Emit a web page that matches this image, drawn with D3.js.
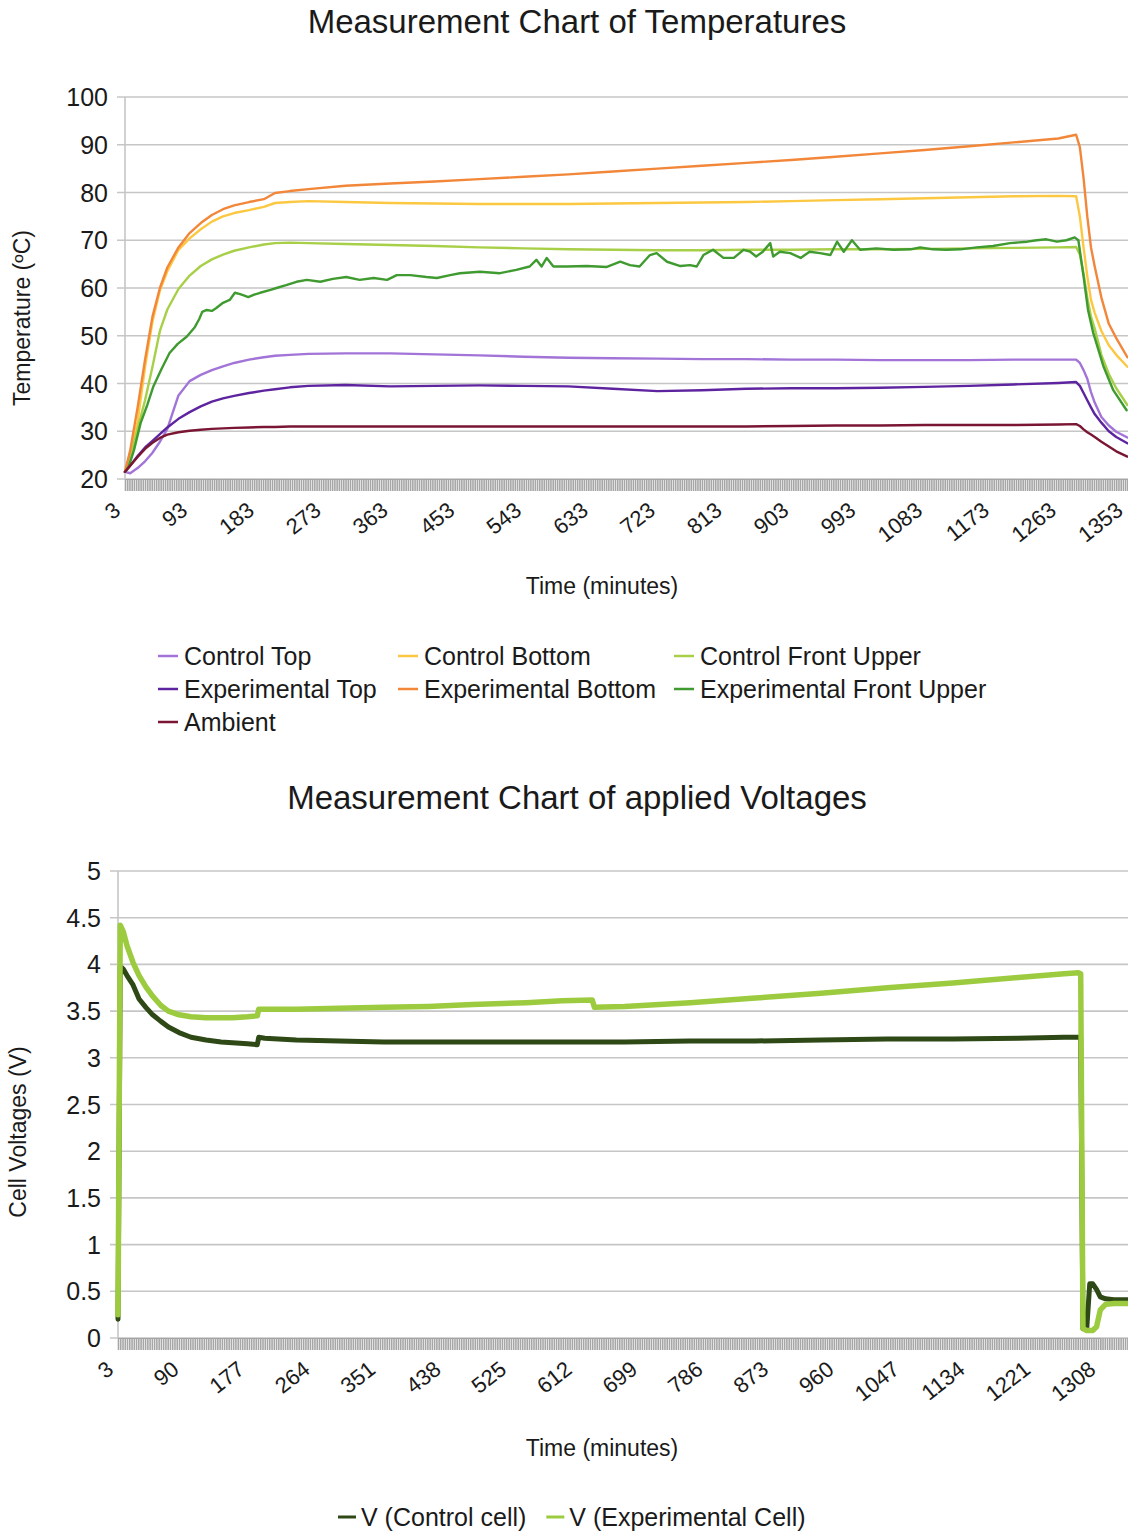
<!DOCTYPE html>
<html>
<head>
<meta charset="utf-8">
<script src="https://cdnjs.cloudflare.com/ajax/libs/d3/7.8.5/d3.min.js"></script>
<style>
  body { margin: 0; background: #fff; }
  text { font-family: "Liberation Sans", Arial, sans-serif; fill: #1a1a1a; }
</style>
</head>
<body>
<script>
var W = 1128, H = 1533;

// ---- temperature chart data (minutes, degC) ----
var tempTimes = [3,10,20,30,40,50,60,75,90,105,120,135,150,170,190,205,225,250,300,360,
  420,480,540,600,660,720,780,840,900,960,1020,1080,1140,1200,1260,
  1284,1289,1294,1299,1304,1309,1318,1328,1338,1353];

var controlTop = [21.5,21.2,22.3,23.7,25.5,27.8,30.5,37.5,40.5,41.8,42.8,43.6,44.3,45,45.5,45.8,46,46.2,46.3,46.3,
  46.1,45.9,45.6,45.4,45.3,45.2,45.1,45.1,45,45,44.9,44.9,44.9,45,45,
  45,44.3,42.8,41,38.2,36,33,31.2,29.9,28.7];
var controlBottom = [21.5,25.5,32,43.5,53,59.5,63.5,68,70.4,72.3,73.9,75,75.7,76.3,77,77.8,78,78.2,78,77.8,
  77.7,77.6,77.6,77.6,77.7,77.8,77.9,78,78.2,78.4,78.6,78.8,79,79.2,79.3,
  79.2,75,68.5,62.5,57.5,54.8,51,48,46,43.5];
var controlFront = [21.5,24.5,30.5,36.5,43.5,51,55.5,59.8,62.6,64.6,66,67,67.8,68.5,69.1,69.4,69.5,69.4,69.2,69,
  68.8,68.5,68.3,68.1,68,67.9,67.9,68,68,68.1,68.1,68.2,68.3,68.4,68.5,
  68.6,67,63,58,54,51.5,46,42,39,35.5];
var expTop = [21.5,22.8,24.8,26.6,28,29.4,30.8,32.6,34,35.2,36.2,36.9,37.4,38,38.5,38.8,39.2,39.5,39.7,39.4,
  39.5,39.6,39.5,39.4,38.9,38.4,38.6,38.9,39,39,39.1,39.3,39.5,39.8,40.1,
  40.3,39.5,38,36.5,35,33.6,31.8,30,28.8,27.5];
var expBottom = [21.5,26,35,45,54,60,64.3,68.5,71.5,73.6,75.3,76.5,77.3,78,78.6,79.9,80.3,80.7,81.4,81.9,
  82.3,82.8,83.3,83.8,84.4,85,85.6,86.2,86.8,87.5,88.2,88.9,89.7,90.5,91.3,
  92.1,89.5,83,75,68.5,64.5,58,52.5,49.5,45.5];
var ambient = [21.5,22.8,24.6,26.3,27.6,28.6,29.3,29.8,30.1,30.3,30.5,30.6,30.7,30.8,30.9,30.9,31,31,31,31,
  31,31,31,31,31,31,31,31,31.1,31.2,31.2,31.3,31.3,31.3,31.4,
  31.5,31.1,30.4,29.8,29.3,28.8,27.8,26.8,25.8,24.7];

// experimental front upper is noisy, read on its own time grid
var efuTimes = [3,8,15,24,33,41,52,63,74,86,97,103,107,113,120,126,135,144,151,158,
  162,169,177,185,199,207,220,234,248,266,283,301,319,338,356,369,387,409,423,441,
  454,481,508,530,548,557,564,571,580,598,625,652,670,683,696,710,719,733,751,764,
  773,782,795,809,823,836,845,853,862,872,876,885,899,913,925,939,953,962,971,982,
  993,1015,1038,1061,1074,1091,1109,1128,1150,1172,1195,1218,1231,1244,1258,1271,1282,1287,1294,1300,
  1307,1321,1334,1352];
var efuTemps = [21.5,22.6,26,31.7,35.5,39.3,43,46.4,48.3,49.8,51.8,53.5,55,55.4,55.2,55.8,56.9,57.5,59,58.7,
  58.5,58.1,58.6,59,59.6,60,60.6,61.3,61.7,61.3,61.9,62.3,61.7,62.1,61.7,62.7,62.7,62.3,62.1,62.7,
  63.1,63.4,63.1,63.8,64.5,65.9,64.5,66.3,64.5,64.5,64.6,64.4,65.5,64.8,64.5,66.9,67.3,65.5,64.6,64.8,
  64.5,66.9,68,66.3,66.3,68,67.6,66.6,67.6,69.4,66.6,67.6,67.3,66.3,67.6,67.3,66.9,69.7,67.6,70,
  68,68.3,68,68.1,68.5,68.1,68,68.1,68.5,68.8,69.4,69.7,70,70.2,69.7,70,70.6,70,62.4,55.4,
  50.6,43.5,38.6,34.4];

var tempYTicks = [20,30,40,50,60,70,80,90,100];
var tempXLabels = [3,93,183,273,363,453,543,633,723,813,903,993,1083,1173,1263,1353];

// ---- voltage chart data (minutes, volts) ----
var voltTimes = [3,6,10,15,23,31,40,49,60,70,84,100,120,140,155,175,188,190,198,240,
  297,356,415,474,545,593,633,636,676,763,850,937,1025,1112,1199,1260,1279,1282,1285,1290,
  1294,1298,1303,1308,1315,1326,1345];
var vControl = [0.2,3.98,3.95,3.88,3.78,3.63,3.54,3.46,3.39,3.33,3.27,3.22,3.19,3.17,3.16,3.15,3.14,3.22,3.21,3.19,
  3.18,3.17,3.17,3.17,3.17,3.17,3.17,3.17,3.17,3.18,3.18,3.19,3.2,3.2,3.21,3.22,3.22,3.22,0.1,0.1,
  0.58,0.58,0.52,0.44,0.42,0.41,0.41];
var vExp = [0.25,4.42,4.35,4.2,4.02,3.88,3.76,3.66,3.56,3.5,3.46,3.44,3.43,3.43,3.43,3.44,3.45,3.52,3.52,3.52,
  3.53,3.54,3.55,3.57,3.59,3.61,3.62,3.54,3.55,3.59,3.64,3.69,3.75,3.8,3.86,3.9,3.91,3.9,0.1,0.08,
  0.08,0.08,0.12,0.3,0.36,0.37,0.37];

var voltYTicks = [0,0.5,1,1.5,2,2.5,3,3.5,4,4.5,5];
var voltYLabels = ["0","0.5","1","1.5","2","2.5","3","3.5","4","4.5","5"];
var voltXLabels = [3,90,177,264,351,438,525,612,699,786,873,960,1047,1134,1221,1308];

var tempSeries = [
  {name: "Control Top", color: "#a274d8", t: tempTimes, v: controlTop},
  {name: "Control Bottom", color: "#fcc842", t: tempTimes, v: controlBottom},
  {name: "Control Front Upper", color: "#a8cf48", t: tempTimes, v: controlFront},
  {name: "Experimental Top", color: "#5e24a0", t: tempTimes, v: expTop},
  {name: "Experimental Bottom", color: "#f2873a", t: tempTimes, v: expBottom},
  {name: "Experimental Front Upper", color: "#3f9a30", t: efuTimes, v: efuTemps},
  {name: "Ambient", color: "#7a1634", t: tempTimes, v: ambient}
];
var voltSeries = [
  {name: "V (Control cell)", color: "#2e4816", t: voltTimes, v: vControl, w: 5},
  {name: "V (Experimental Cell)", color: "#9dcb40", t: voltTimes, v: vExp, w: 5.5}
];

var svg = d3.select("body").append("svg")
  .attr("width", W).attr("height", H);

function drawChart(o) {
  var g = svg.append("g");
  var x = d3.scaleLinear().domain(o.xDomain).range(o.xRange);
  var y = d3.scaleLinear().domain(o.yDomain).range([o.bottom, o.top]);

  g.append("text")
    .attr("x", 577).attr("y", o.titleY)
    .attr("text-anchor", "middle")
    .style("font-size", "33px")
    .text(o.title);

  g.selectAll(".grid").data(o.yTicks).enter().append("line")
    .attr("x1", o.left - 8).attr("x2", W)
    .attr("y1", function(d) { return y(d); })
    .attr("y2", function(d) { return y(d); })
    .attr("stroke", "#c6c6c6").attr("stroke-width", 1.6);

  g.append("line")
    .attr("x1", o.left).attr("x2", o.left)
    .attr("y1", o.top).attr("y2", o.bottom)
    .attr("stroke", "#c6c6c6").attr("stroke-width", 1.6);

  g.selectAll(".ylab").data(o.yTicks).enter().append("text")
    .attr("x", o.left - 17)
    .attr("y", function(d) { return y(d); })
    .attr("dy", "0.36em")
    .attr("text-anchor", "end")
    .style("font-size", "25px")
    .text(function(d, i) { return o.yLabels ? o.yLabels[i] : d; });

  g.append("text")
    .attr("transform", "translate(" + o.yTitleX + "," + o.yTitleY + ") rotate(-90)")
    .attr("text-anchor", "middle")
    .style("font-size", "23px")
    .text(o.yTitle);

  // one tick per 3-minute category makes the grey band under the plot
  var cats = d3.range(3, x.invert(W) + 3, 3);
  var band = g.append("g")
    .attr("transform", "translate(0," + o.bottom + ")")
    .call(d3.axisBottom(x).tickValues(cats).tickSize(12).tickFormat(""));
  band.select(".domain").attr("stroke", "#a0a0a0");
  band.selectAll(".tick line").attr("stroke", "#a6a6a6").attr("stroke-width", 1.6);

  g.selectAll(".xlab").data(o.xLabels).enter().append("text")
    .attr("transform", function(d) {
      return "translate(" + (x(d) - 3) + "," + (o.bottom + 34) + ") rotate(-38)";
    })
    .attr("text-anchor", "end")
    .style("font-size", "22px")
    .text(function(d) { return d; });

  g.append("text")
    .attr("x", 602).attr("y", o.xTitleY)
    .attr("text-anchor", "middle")
    .style("font-size", "23px")
    .text("Time (minutes)");

  o.series.forEach(function(s) {
    var line = d3.line()
      .x(function(d, i) { return x(s.t[i]); })
      .y(function(d) { return y(d); });
    g.append("path")
      .datum(s.v)
      .attr("fill", "none")
      .attr("stroke", s.color)
      .attr("stroke-width", s.w || 2.4)
      .attr("stroke-linejoin", "round")
      .attr("stroke-linecap", "round")
      .attr("d", line);
  });

  return g;
}

drawChart({
  title: "Measurement Chart of Temperatures", titleY: 33,
  left: 125, top: 97, bottom: 479,
  xDomain: [3, 1353], xRange: [125, 125 + 1350 * 0.7425],
  yDomain: [20, 100], yTicks: tempYTicks,
  yTitle: "Temperature (ºC)", yTitleX: 30, yTitleY: 318,
  xLabels: tempXLabels, xTitleY: 594,
  series: tempSeries
});

drawChart({
  title: "Measurement Chart of applied Voltages", titleY: 809,
  left: 118, top: 871, bottom: 1338,
  xDomain: [3, 1308], xRange: [118, 118 + 1305 * 0.7527],
  yDomain: [0, 5], yTicks: voltYTicks, yLabels: voltYLabels,
  yTitle: "Cell Voltages (V)", yTitleX: 26, yTitleY: 1132,
  xLabels: voltXLabels, xTitleY: 1456,
  series: voltSeries
});

// temperature legend, 3 columns filled row by row
var legCols = [158, 398, 674], legRows = [656, 689, 722];
var leg = svg.append("g").selectAll("g").data(tempSeries).enter().append("g")
  .attr("transform", function(d, i) {
    return "translate(" + legCols[i % 3] + "," + legRows[Math.floor(i / 3)] + ")";
  });
leg.append("line")
  .attr("x1", 0).attr("x2", 20).attr("y1", 0).attr("y2", 0)
  .attr("stroke", function(d) { return d.color; }).attr("stroke-width", 2.5);
leg.append("text")
  .attr("x", 26).attr("dy", "0.36em")
  .style("font-size", "25px")
  .text(function(d) { return d.name; });

// voltage legend, one row
var vx = 338;
voltSeries.forEach(function(s) {
  var it = svg.append("g").attr("transform", "translate(" + vx + ",1517)");
  it.append("line")
    .attr("x1", 0).attr("x2", 18).attr("y1", 0).attr("y2", 0)
    .attr("stroke", s.color).attr("stroke-width", 3);
  var t = it.append("text")
    .attr("x", 23).attr("dy", "0.36em")
    .style("font-size", "25px")
    .text(s.name);
  vx += 23 + t.node().getComputedTextLength() + 20;
});
</script>
</body>
</html>
